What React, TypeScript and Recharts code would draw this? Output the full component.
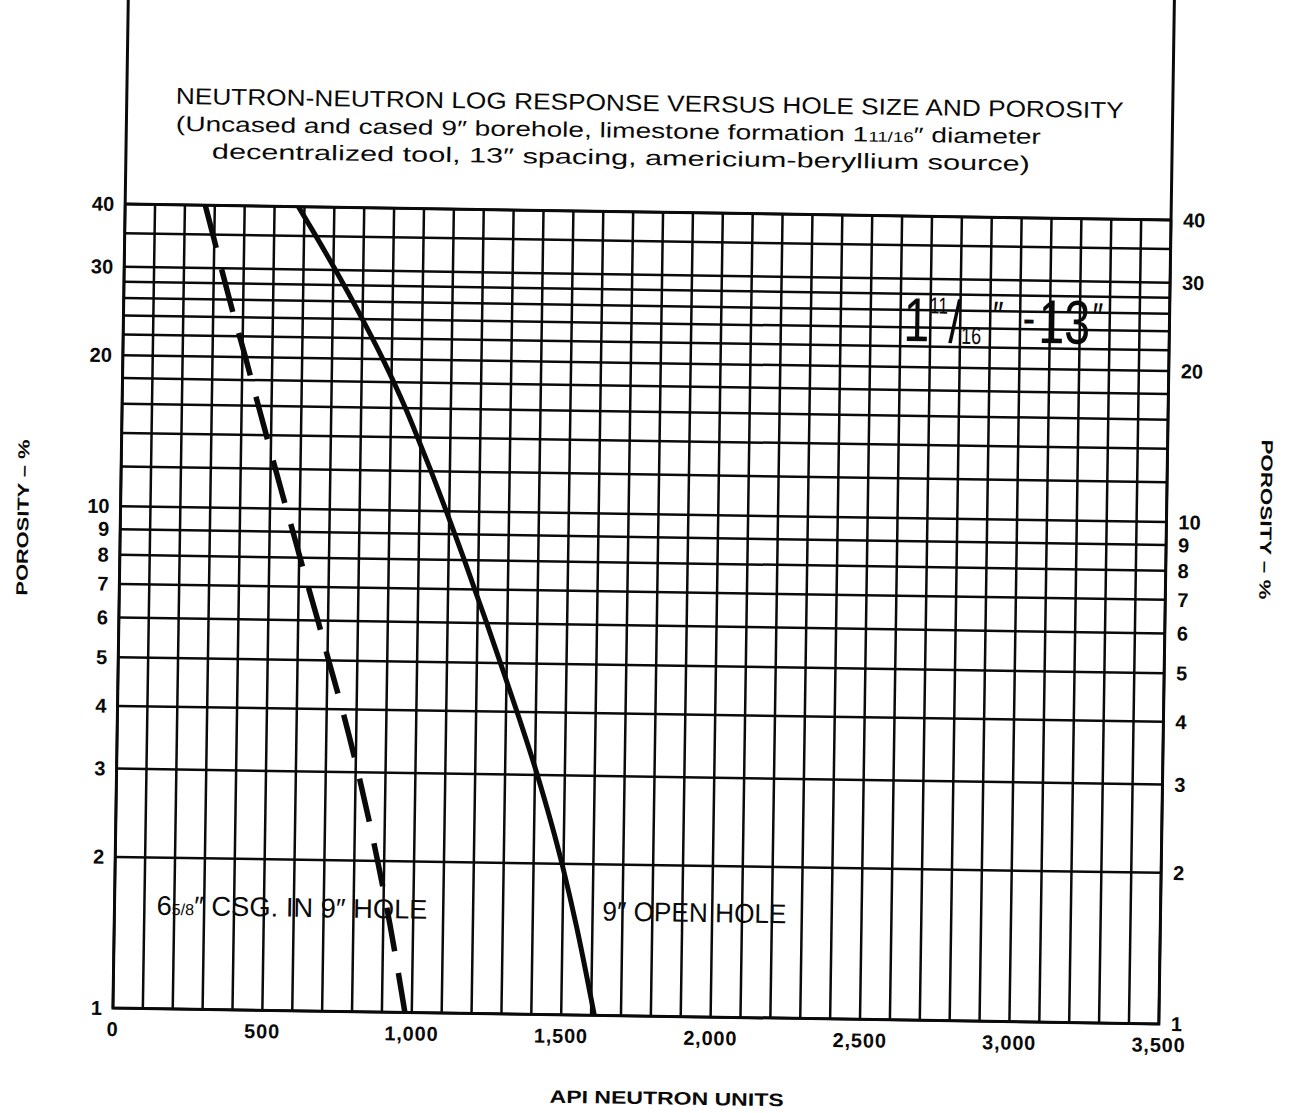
import { LineChart, Line, XAxis, YAxis, CartesianGrid, Customized } from "recharts";

// porosity levels (%) where both curves were read
const porosity = [40, 35, 30, 25, 20, 16, 14, 12, 10, 9, 8, 7, 6, 5, 4, 3, 2, 1.5, 1];
// 9" open hole response, API neutron units
const openHoleApi = [580, 640, 707, 783, 870, 948, 990, 1037, 1090, 1120, 1153, 1189, 1231, 1279, 1337, 1408, 1495, 1547, 1611];
// 6 5/8" casing in 9" hole response, API neutron units
const casedHoleApi = [268, 295, 325, 362, 410, 456, 484, 516, 555, 578, 603, 632, 666, 704, 752, 808, 878, 922, 977];

const xTicks = [0, 500, 1000, 1500, 2000, 2500, 3000, 3500];
const yTicks = [1, 2, 3, 4, 5, 6, 7, 8, 9, 10, 20, 30, 40];
const xGrid = [
  0, 100, 200, 300, 400, 500, 600, 700, 800, 900, 1000, 1100, 1200, 1300, 1400, 1500, 1600, 1700,
  1800, 1900, 2000, 2100, 2200, 2300, 2400, 2500, 2600, 2700, 2800, 2900, 3000, 3100, 3200, 3300,
  3400, 3500,
];
const yGrid = [1, 2, 3, 4, 5, 6, 7, 8, 9, 10, 12, 14, 16, 18, 20, 22, 24, 26, 28, 30, 35, 40];

const openHole = porosity.map((p, i) => ({ porosity: p, api: openHoleApi[i] }));
const casedHole = porosity.map((p, i) => ({ porosity: p, api: casedHoleApi[i] }));

const W = 1290;
const H = 1113;
const LEFT = 119;
const RIGHT = 1165;
const TOP = 212;
const BOTTOM = 1016;
const AXIS_W = 60;
const AXIS_H = 40;
// the printed sheet sits with a slight clockwise tilt
const TILT = 0.87;
const CX = (LEFT + RIGHT) / 2;
const CY = (TOP + BOTTOM) / 2;

const SANS = '"Liberation Sans", Arial, Helvetica, sans-serif';
const NARROW = '"Liberation Sans Narrow", "Liberation Sans", Arial, sans-serif';
const INK = "#0a0a0a";

const fmt = (v: number) => v.toLocaleString("en-US");

const LeftTick = ({ x, y, payload }: any) => (
  <text x={x} y={y} dy={7} textAnchor="end" fontFamily={SANS} fontWeight="bold" fontSize={20} fill={INK}>
    {payload.value}
  </text>
);

const RightTick = ({ x, y, payload }: any) => (
  <text x={x} y={y} dy={7} textAnchor="start" fontFamily={SANS} fontWeight="bold" fontSize={20} fill={INK}>
    {payload.value}
  </text>
);

const BottomTick = ({ x, y, payload }: any) => (
  <text x={x} y={y} dy={14} textAnchor="middle" fontFamily={SANS} fontWeight="bold" fontSize={20} letterSpacing={0.8} fill={INK}>
    {fmt(payload.value)}
  </text>
);

function Annotations() {
  return (
    <g>
      {/* frame: title box sides run up from the plot */}
      <path
        d={`M${LEFT},-40 V${BOTTOM} H${RIGHT} V-40`}
        fill="none"
        stroke={INK}
        strokeWidth={3}
      />
      <line x1={LEFT} x2={RIGHT} y1={TOP} y2={TOP} stroke={INK} strokeWidth={3} />

      {/* title block */}
      <g fontFamily={NARROW} fill={INK} textAnchor="middle">
        <text x={642} y={111} fontSize={23} textLength={948} lengthAdjust="spacingAndGlyphs">
          NEUTRON-NEUTRON LOG RESPONSE VERSUS HOLE SIZE AND POROSITY
        </text>
        <text x={601} y={138} fontSize={21} textLength={865} lengthAdjust="spacingAndGlyphs">
          (Uncased and cased 9″ borehole, limestone formation 1<tspan fontSize={14}>11/16</tspan>″ diameter
        </text>
        <text x={614} y={165} fontSize={21} textLength={818} lengthAdjust="spacingAndGlyphs">
          decentralized tool, 13″ spacing, americium-beryllium source)
        </text>
      </g>

      {/* tool size tag */}
      <text transform="translate(899,337) scale(0.75,1)" fontFamily={SANS} fill={INK}>
        <tspan x={0} y={0} fontSize={62}>1</tspan>
        <tspan x={35} y={-28} fontSize={23}>11</tspan>
        <tspan x={60} y={1} fontSize={60}>/</tspan>
        <tspan x={77} y={2} fontSize={24}>16</tspan>
        <tspan x={119} y={-13} fontSize={40}>″</tspan>
        <tspan x={159} y={-8} fontSize={50}>-</tspan>
        <tspan x={180} y={0} fontSize={62}>13</tspan>
        <tspan x={252} y={-13} fontSize={40}>″</tspan>
      </text>

      {/* curve labels */}
      <g fontFamily={SANS} fill={INK}>
        <text x={161} y={922} fontSize={27} textLength={271} lengthAdjust="spacingAndGlyphs">
          6<tspan fontSize={16}>5/8</tspan>″ CSG. IN 9″ HOLE
        </text>
        <text x={607} y={921} fontSize={27} textLength={184} lengthAdjust="spacingAndGlyphs">
          9″ OPEN HOLE
        </text>
      </g>

      {/* axis titles */}
      <g fontFamily={SANS} fontWeight="bold" fontSize={16} fill={INK}>
        <text transform="translate(27,527) rotate(-90)" textAnchor="middle" textLength={156} lengthAdjust="spacingAndGlyphs">
          POROSITY – %
        </text>
        <text transform="translate(1259,510) rotate(90)" textAnchor="middle" textLength={160} lengthAdjust="spacingAndGlyphs">
          POROSITY – %
        </text>
        <text x={674} y={1104} textAnchor="middle" fontSize={18} textLength={234} lengthAdjust="spacingAndGlyphs">
          API NEUTRON UNITS
        </text>
      </g>
    </g>
  );
}

export default function App() {
  return (
    <div style={{ position: "absolute", left: 0, top: 0, width: W, height: H, background: "#fff", overflow: "hidden" }}>
      <style>{`.recharts-surface { overflow: visible; }`}</style>
      <div style={{ width: W, height: H, transform: `rotate(${TILT}deg)`, transformOrigin: `${CX}px ${CY}px` }}>
        <LineChart
          width={W}
          height={H}
          margin={{ top: TOP, left: LEFT - AXIS_W, right: W - RIGHT - AXIS_W, bottom: H - BOTTOM - AXIS_H }}
        >
          <CartesianGrid
            yAxisId="left"
            stroke={INK}
            strokeWidth={2.5}
            strokeOpacity={1}
            verticalValues={xGrid}
            horizontalValues={yGrid}
          />
          <XAxis
            type="number"
            dataKey="api"
            domain={[0, 3500]}
            ticks={xTicks}
            allowDataOverflow
            axisLine={false}
            tickLine={false}
            tickSize={0}
            tickMargin={14}
            height={AXIS_H}
            tick={BottomTick}
            interval={0}
          />
          <YAxis
            yAxisId="left"
            type="number"
            scale="log"
            domain={[1, 40]}
            ticks={yTicks}
            allowDataOverflow
            axisLine={false}
            tickLine={false}
            tickSize={0}
            tickMargin={11}
            width={AXIS_W}
            tick={LeftTick}
            interval={0}
          />
          <YAxis
            yAxisId="right"
            orientation="right"
            type="number"
            scale="log"
            domain={[1, 40]}
            ticks={yTicks}
            allowDataOverflow
            axisLine={false}
            tickLine={false}
            tickSize={0}
            tickMargin={12}
            width={AXIS_W}
            tick={RightTick}
            interval={0}
          />
          <Line
            yAxisId="left"
            data={casedHole}
            dataKey="porosity"
            type="monotone"
            stroke={INK}
            strokeWidth={5.5}
            strokeDasharray="44 22"
            dot={false}
            isAnimationActive={false}
          />
          <Line
            yAxisId="left"
            data={openHole}
            dataKey="porosity"
            type="monotone"
            stroke={INK}
            strokeWidth={5}
            dot={false}
            isAnimationActive={false}
          />
          <Customized component={Annotations} />
        </LineChart>
      </div>
    </div>
  );
}
